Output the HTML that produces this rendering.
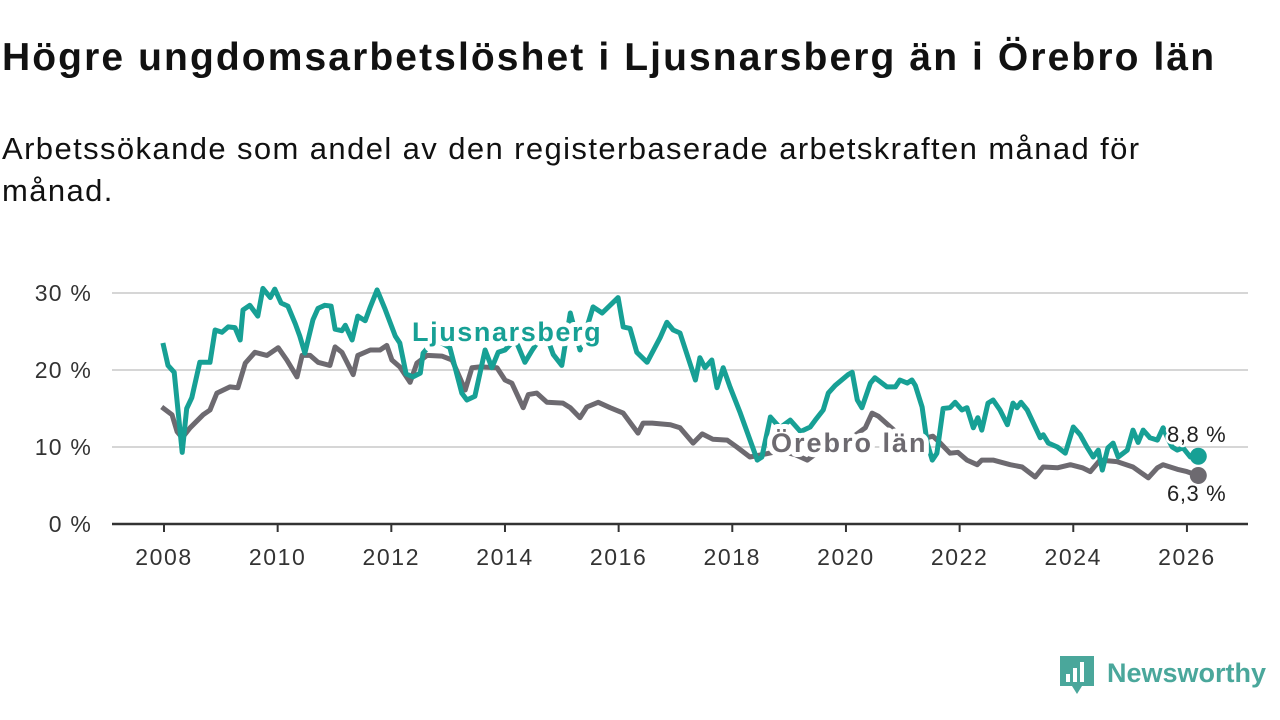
<!DOCTYPE html>
<html><head><meta charset="utf-8"><style>
body{margin:0;width:1280px;height:720px;background:#fff;font-family:"Liberation Sans",sans-serif;overflow:hidden;position:relative}
h1{position:absolute;left:2px;top:36px;margin:0;font-size:39px;font-weight:bold;color:#111;letter-spacing:2.1px;white-space:nowrap}
p.sub{position:absolute;left:2px;top:128px;margin:0;font-size:31px;line-height:42px;color:#111;width:1250px;letter-spacing:1.4px}
svg{position:absolute;left:0;top:0}
</style></head><body>
<h1>Högre ungdomsarbetslöshet i Ljusnarsberg än i Örebro län</h1>
<p class="sub">Arbetssökande som andel av den registerbaserade arbetskraften månad för<br>månad.</p>
<svg id="chart" width="1280" height="720"></svg>
<script>
const yTicks=[0,10,20,30];
const yTickLabels=["0 %","10 %","20 %","30 %"];
const xTicks=[2008,2010,2012,2014,2016,2018,2020,2022,2024,2026];
const ljDates=[2007.98,2008.07,2008.18,2008.32,2008.40,2008.49,2008.63,2008.81,2008.90,2009.02,2009.13,2009.25,2009.34,2009.39,2009.51,2009.65,2009.74,2009.87,2009.95,2010.06,2010.18,2010.31,2010.39,2010.48,2010.62,2010.71,2010.83,2010.94,2011.01,2011.13,2011.19,2011.31,2011.41,2011.54,2011.63,2011.75,2011.89,2012.07,2012.15,2012.26,2012.38,2012.51,2012.56,2012.77,2013.03,2013.24,2013.33,2013.47,2013.65,2013.77,2013.88,2014.00,2014.18,2014.35,2014.48,2014.70,2014.85,2015.00,2015.15,2015.32,2015.55,2015.71,2015.99,2016.08,2016.20,2016.32,2016.50,2016.73,2016.85,2016.96,2017.08,2017.35,2017.43,2017.52,2017.64,2017.73,2017.84,2017.96,2018.14,2018.44,2018.52,2018.67,2018.84,2019.02,2019.20,2019.37,2019.46,2019.60,2019.69,2019.81,2020.04,2020.11,2020.20,2020.28,2020.43,2020.51,2020.72,2020.87,2020.95,2021.08,2021.16,2021.22,2021.34,2021.43,2021.52,2021.60,2021.71,2021.83,2021.92,2022.04,2022.13,2022.24,2022.32,2022.39,2022.50,2022.59,2022.71,2022.84,2022.94,2023.01,2023.08,2023.19,2023.33,2023.42,2023.47,2023.56,2023.72,2023.86,2024.00,2024.12,2024.24,2024.35,2024.44,2024.51,2024.61,2024.70,2024.79,2024.95,2025.05,2025.14,2025.23,2025.35,2025.48,2025.58,2025.67,2025.74,2025.83,2025.93,2026.06,2026.20];
const ljValues=[23.5,20.6,19.7,9.3,15.0,16.4,21.0,21.0,25.2,24.9,25.6,25.5,23.9,27.8,28.4,27.0,30.6,29.4,30.5,28.7,28.3,26.0,24.4,22.2,26.5,28.0,28.4,28.3,25.3,25.1,25.8,23.9,27.0,26.4,28.2,30.4,27.9,24.4,23.5,19.5,19.1,19.6,22.2,24.0,22.9,17.0,16.1,16.6,22.6,20.3,22.3,22.6,24.0,21.0,22.6,25.0,22.0,20.6,27.4,22.6,28.2,27.4,29.4,25.6,25.4,22.3,21.0,24.2,26.2,25.2,24.8,18.7,21.6,20.3,21.3,17.7,20.3,17.8,14.4,8.3,8.7,13.9,12.5,13.5,12.0,12.6,13.5,14.8,17.0,18.0,19.4,19.7,16.1,15.1,18.3,19.0,17.8,17.8,18.7,18.3,18.7,18.0,15.2,10.5,8.3,9.2,15.0,15.1,15.8,14.8,15.1,12.5,13.8,12.2,15.7,16.1,14.8,12.9,15.7,15.1,15.8,14.8,12.6,11.2,11.6,10.5,10.0,9.2,12.6,11.6,10.0,8.7,9.6,7.0,9.9,10.5,8.7,9.6,12.2,10.6,12.2,11.2,10.9,12.5,11.0,10.0,9.6,9.9,8.7,8.8];
const orDates=[2007.96,2008.14,2008.23,2008.32,2008.46,2008.69,2008.81,2008.93,2009.16,2009.30,2009.43,2009.60,2009.81,2010.01,2010.16,2010.34,2010.43,2010.57,2010.71,2010.92,2011.01,2011.13,2011.33,2011.41,2011.63,2011.80,2011.92,2012.01,2012.15,2012.33,2012.45,2012.63,2012.89,2013.07,2013.30,2013.42,2013.56,2013.86,2014.00,2014.12,2014.32,2014.41,2014.56,2014.74,2015.02,2015.15,2015.32,2015.44,2015.64,2015.85,2016.08,2016.34,2016.43,2016.59,2016.91,2017.08,2017.31,2017.47,2017.66,2017.91,2018.08,2018.31,2018.45,2018.84,2019.11,2019.32,2019.72,2020.07,2020.34,2020.46,2020.57,2020.95,2021.31,2021.53,2021.66,2021.83,2021.97,2022.13,2022.31,2022.39,2022.59,2022.89,2023.10,2023.33,2023.47,2023.72,2023.95,2024.16,2024.30,2024.47,2024.77,2025.05,2025.32,2025.48,2025.58,2025.83,2026.00,2026.20];
const orValues=[15.2,14.2,12.0,11.2,12.5,14.2,14.8,17.0,17.8,17.7,20.9,22.3,21.9,22.9,21.3,19.1,21.9,21.9,21.0,20.6,23.0,22.3,19.4,21.9,22.6,22.6,23.2,21.3,20.4,18.4,20.9,21.9,21.8,21.3,17.4,20.3,20.4,20.3,18.7,18.3,15.1,16.8,17.0,15.8,15.7,15.1,13.8,15.2,15.8,15.1,14.4,11.8,13.1,13.1,12.9,12.5,10.5,11.7,11.0,10.9,10.0,8.7,8.9,9.5,9.0,8.3,10.5,11.0,12.5,14.4,14.0,11.5,11.0,11.4,10.5,9.2,9.3,8.3,7.7,8.3,8.3,7.7,7.4,6.1,7.4,7.3,7.7,7.3,6.8,8.3,8.1,7.4,6.0,7.3,7.7,7.1,6.8,6.3];
const ljLast="8,8 %", orLast="6,3 %";

const NS="http://www.w3.org/2000/svg";
const svg=document.getElementById('chart');
const X=d=>164+(d-2008)*56.83;
const Y=v=>524-v*7.7;
function mk(tag,attrs,parent){const e=document.createElementNS(NS,tag);for(const k in attrs)e.setAttribute(k,attrs[k]);(parent||svg).appendChild(e);return e;}
const TEAL="#17a095", GRAY="#6d6a70";
yTicks.forEach((t,i)=>{
  if(t>0){const g=mk('line',{x1:112,x2:1248,y1:Y(t),y2:Y(t),stroke:'#d6d6d6','stroke-width':2});
  
  }
  const l=mk('text',{x:92,y:Y(t)+8,'text-anchor':'end','font-size':23,'letter-spacing':1.2,fill:'#333'});
  l.textContent=yTickLabels[i];
  
  
});
xTicks.forEach(t=>{
  const tk=mk('line',{x1:X(t),x2:X(t),y1:524,y2:532,stroke:'#333','stroke-width':2});
  
  
  const l=mk('text',{x:X(t),y:565,'text-anchor':'middle','font-size':23,'letter-spacing':1.6,fill:'#333'});
  l.textContent=t;
  
  
});
const ax=mk('line',{x1:112,x2:1248,y1:524,y2:524,stroke:'#333','stroke-width':2.5});


function series(dates,vals,color,name){
  const p=mk('polyline',{points:dates.map((d,i)=>X(d).toFixed(1)+','+Y(vals[i]).toFixed(1)).join(' '),fill:'none',stroke:color,'stroke-width':5,'stroke-linejoin':'round'});
  
  
  const n=dates.length-1;
  const c=mk('circle',{cx:X(dates[n]),cy:Y(vals[n]),r:8.5,fill:color});
  
  
}
series(orDates,orValues,GRAY,'orebro-lan');
series(ljDates,ljValues,TEAL,'ljusnarsberg');
function label(x,y,txt,color,name,bold,size,ls){
  const t=mk('text',{x:x,y:y,'font-size':size,'font-weight':bold?'bold':'normal','letter-spacing':ls,fill:color,stroke:'#fff','stroke-width':bold?10:5,'paint-order':'stroke','stroke-linejoin':'round'});
  t.textContent=txt;
  
  
}
label(412,341,'Ljusnarsberg',TEAL,'ljusnarsberg-label',true,27,1.6);
label(771,452,'Örebro län',GRAY,'orebro-lan-label',true,27,2);
label(1167,442,ljLast,'#222','ljusnarsberg-last-value',false,22,0.6);
label(1167,501,orLast,'#222','orebro-lan-last-value',false,22,0.6);
const lg=mk('g',{});


mk('path',{d:'M1060 656 h34 v30 h-12 l-5 8 l-5 -8 h-12 z',fill:'#4aa79b'},lg);
mk('rect',{x:1066,y:674,width:4,height:8,fill:'#fff'},lg);
mk('rect',{x:1073,y:668,width:4,height:14,fill:'#fff'},lg);
mk('rect',{x:1080,y:662,width:4,height:20,fill:'#fff'},lg);
const lt=mk('text',{x:1107,y:682,'font-size':27,'font-weight':'bold',fill:'#4aa79b'},lg);
lt.textContent='Newsworthy';
</script>
</body></html>
